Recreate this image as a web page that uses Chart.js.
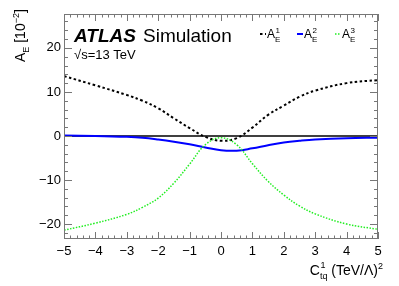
<!DOCTYPE html>
<html>
<head>
<meta charset="utf-8">
<script src="https://cdn.jsdelivr.net/npm/chart.js@4/dist/chart.umd.min.js"></script>
<style>
  body { margin: 0; background: #fff; }
</style>
</head>
<body>
<canvas id="canvas" width="399" height="286"></canvas>
<script>
// values (C_tq^1 in (TeV/Lambda)^2, A_E in 10^-2)
const cValues = [-5, -4, -3, -2.5, -2, -1.5, -1, -0.5, 0, 0.5, 1, 1.5, 2, 2.5, 3, 4, 5];
const aE1 = [13.6, 11.5, 9.3, 8.0, 6.3, 4.0, 1.8, -0.2, -1.1, -0.5, 1.9, 4.8, 6.9, 8.9, 10.3, 12.0, 12.7];
const aE2 = [0.1, 0, -0.2, -0.4, -0.8, -1.3, -1.9, -2.6, -3.25, -3.35, -2.8, -2.1, -1.5, -1.1, -0.8, -0.5, -0.4];
const aE3 = [-21.4, -19.8, -17.8, -16.2, -14.1, -10.7, -6.4, -2.0, -0.4, -2.0, -6.3, -10.3, -13.4, -15.9, -17.7, -20.0, -21.2];
const xRange = [-5, 5];
const yRange = [-23.4, 27.7];
const xTicks = [-5, -4, -3, -2, -1, 0, 1, 2, 3, 4, 5];
const yTicks = [-20, -10, 0, 10, 20];

const FONT = "'Liberation Sans', Arial, sans-serif";

function pts(ys) {
  return cValues.map((c, i) => ({ x: c, y: ys[i] }));
}

// draw text pieces: [text, size, dy]
function richText(ctx, x, y, parts) {
  let cx = x;
  for (const p of parts) {
    ctx.font = p[1] + "px " + FONT;
    ctx.fillText(p[0], cx, y + (p[2] || 0));
    cx += ctx.measureText(p[0]).width;
  }
  return cx;
}
function richWidth(ctx, parts) {
  let w = 0;
  for (const p of parts) {
    ctx.font = p[1] + "px " + FONT;
    w += ctx.measureText(p[0]).width;
  }
  return w;
}

const atlasDecor = {
  id: "atlasDecor",
  afterDraw(chart) {
    const ctx = chart.ctx;
    const a = chart.chartArea;
    const xs = chart.scales.x, ys = chart.scales.y;
    ctx.save();

    // frame + ticks on all four sides
    ctx.strokeStyle = "#777";
    ctx.lineWidth = 1;
    ctx.strokeRect(a.left + 0.5, a.top + 0.5, a.right - a.left - 1, a.bottom - a.top - 1);
    ctx.beginPath();
    for (let i = 0; i <= 50; i++) {
      const v = xRange[0] + i * 0.2;
      const px = Math.round(xs.getPixelForValue(v)) + 0.5;
      const len = i % 5 === 0 ? 7 : 3.5;
      ctx.moveTo(px, a.bottom); ctx.lineTo(px, a.bottom - len);
      ctx.moveTo(px, a.top); ctx.lineTo(px, a.top + len);
    }
    for (let v = -22; v <= 26; v += 2) {
      const py = Math.round(ys.getPixelForValue(v)) + 0.5;
      const len = v % 10 === 0 ? 8 : 4;
      ctx.moveTo(a.left, py); ctx.lineTo(a.left + len, py);
      ctx.moveTo(a.right, py); ctx.lineTo(a.right - len, py);
    }
    ctx.stroke();

    ctx.fillStyle = "#000";
    ctx.textBaseline = "alphabetic";
    ctx.textAlign = "left";

    // ATLAS label
    ctx.font = "italic bold 19px " + FONT;
    ctx.fillText("ATLAS", 74, 42);
    ctx.font = "19px " + FONT;
    ctx.fillText("Simulation", 143, 42);
    ctx.font = "13px " + FONT;
    ctx.fillText("\u221As=13 TeV", 74, 59);

    // legend
    const legend = [
      { x: 260, color: "#000", dash: [2.5, 2.5], w: 2, sup: "1" },
      { x: 297, color: "#0000ff", dash: [], w: 2, sup: "2" },
      { x: 335, color: "#22ee22", dash: [1.5, 1.5], w: 1.5, sup: "3" }
    ];
    for (const l of legend) {
      ctx.strokeStyle = l.color;
      ctx.lineWidth = l.w;
      ctx.setLineDash(l.dash);
      ctx.beginPath();
      ctx.moveTo(l.x, 34); ctx.lineTo(l.x + 6, 34);
      ctx.stroke();
      ctx.setLineDash([]);
      ctx.fillStyle = "#000";
      const ax = l.x + 7;
      ctx.font = "12px " + FONT;
      ctx.fillText("A", ax, 38);
      const aw = ctx.measureText("A").width;
      ctx.font = "8px " + FONT;
      ctx.fillText(l.sup, ax + aw + 0.5, 33);
      ctx.fillText("E", ax + aw, 42);
    }

    // y title (rotated)
    ctx.save();
    ctx.translate(25, 62);
    ctx.rotate(-Math.PI / 2);
    richText(ctx, 0, 0, [["A", 14], ["E", 9, 4], [" [10", 14], ["\u22122", 9, -6], ["]", 14]]);
    ctx.restore();

    // x title (right aligned)
    const ctPart = [["C", 14]];
    ctx.font = "9px " + FONT;
    const subW = ctx.measureText("tq").width;
    const tail = [[" (TeV/\u039B)", 14], ["2", 9, -6]];
    const total = richWidth(ctx, ctPart) + subW + richWidth(ctx, tail);
    let cx = richText(ctx, 383 - total, 275, ctPart);
    ctx.font = "9px " + FONT;
    ctx.fillText("tq", cx, 279);
    ctx.fillText("1", cx + 0.5, 268);
    richText(ctx, cx + subW, 275, tail);

    ctx.restore();
  }
};

const canvas = document.getElementById("canvas");
const ctx = canvas.getContext("2d");

new Chart(ctx, {
  type: "line",
  data: {
    datasets: [
      {
        label: "A_E^1",
        data: pts(aE1),
        borderColor: "#000",
        borderWidth: 2,
        borderDash: [2.5, 2.5],
        order: 1
      },
      {
        label: "A_E^2",
        data: pts(aE2),
        borderColor: "#0000ff",
        borderWidth: 2,
        order: 2
      },
      {
        label: "A_E^3",
        data: pts(aE3),
        borderColor: "#22ee22",
        borderWidth: 1.5,
        borderDash: [1.5, 1.5],
        order: 0
      },
      {
        label: "zero",
        data: xRange.map((x) => ({ x: x, y: 0 })),
        borderColor: "#000",
        borderWidth: 1.5,
        order: 5
      }
    ]
  },
  options: {
    responsive: false,
    animation: false,
    devicePixelRatio: 1,
    elements: {
      point: { radius: 0 },
      line: { tension: 0.4, fill: false }
    },
    layout: { padding: { left: 0, right: 21, top: 14, bottom: 0 } },
    plugins: {
      legend: { display: false },
      tooltip: { enabled: false },
      title: { display: false }
    },
    scales: {
      x: {
        type: "linear",
        min: xRange[0],
        max: xRange[1],
        grid: { display: false, drawTicks: false },
        border: { display: false },
        afterBuildTicks: (s) => { s.ticks = xTicks.map((v) => ({ value: v })); },
        afterFit: (s) => { s.height = 47; },
        ticks: {
          padding: 5,
          color: "#000",
          maxRotation: 0,
          autoSkip: false,
          font: { size: 13, family: FONT },
          callback: (v) => String(v).replace("-", "\u2212")
        }
      },
      y: {
        type: "linear",
        min: yRange[0],
        max: yRange[1],
        grid: { display: false, drawTicks: false },
        border: { display: false },
        afterBuildTicks: (s) => { s.ticks = yTicks.map((v) => ({ value: v })); },
        afterFit: (s) => { s.width = 64; },
        ticks: {
          padding: 3,
          color: "#000",
          font: { size: 13, family: FONT },
          callback: (v) => String(v).replace("-", "\u2212")
        }
      }
    }
  },
  plugins: [atlasDecor]
});
</script>
</body>
</html>
